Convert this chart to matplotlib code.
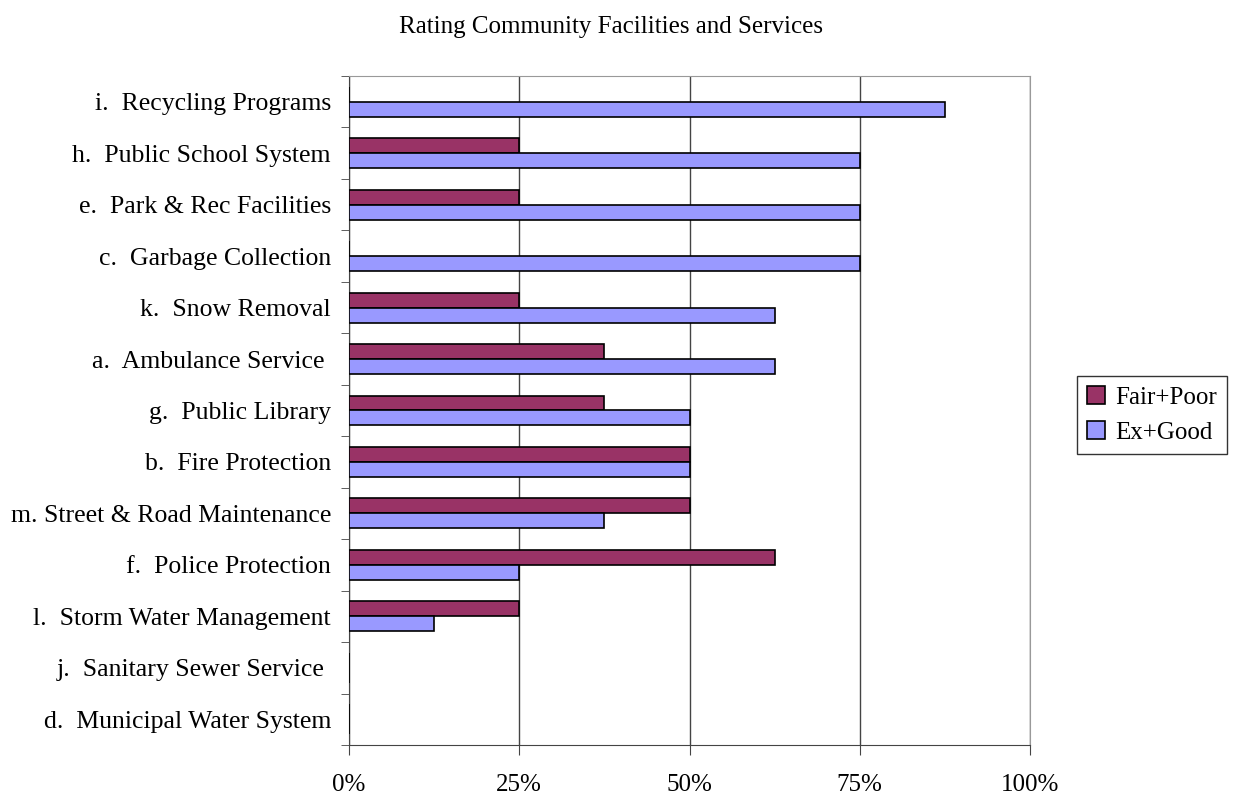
import numpy as np
import matplotlib.pyplot as plt
from matplotlib.ticker import FixedLocator, NullFormatter

# datos, de arriba hacia abajo como en la figura
categorias = [
    "i.  Recycling Programs",
    "h.  Public School System",
    "e.  Park & Rec Facilities",
    "c.  Garbage Collection",
    "k.  Snow Removal",
    "a.  Ambulance Service ",
    "g.  Public Library",
    "b.  Fire Protection",
    "m. Street & Road Maintenance",
    "f.  Police Protection",
    "l.  Storm Water Management",
    "j.  Sanitary Sewer Service ",
    "d.  Municipal Water System",
]
ex_good = [87.5, 75, 75, 75, 62.5, 62.5, 50, 50, 37.5, 25, 12.5, 0, 0]
fair_poor = [0, 25, 25, 0, 25, 37.5, 37.5, 50, 50, 62.5, 25, 0, 0]
ticks_x = [0, 25, 50, 75, 100]
etiquetas_x = ["0%", "25%", "50%", "75%", "100%"]

plt.rcParams['font.family'] = ['Liberation Serif', 'DejaVu Serif']

fig = plt.figure(figsize=(12.35, 8), dpi=100)
ax = fig.add_axes([349 / 1235, 1 - 745 / 800, (1030 - 349) / 1235, (745 - 76) / 800])

n = len(categorias)
y = np.arange(n)[::-1].astype(float)
h = 0.29

ax.barh(y + h / 2, fair_poor, height=h, color="#993366", edgecolor="black", linewidth=1.2,
        label="Fair+Poor", zorder=3)
ax.barh(y - h / 2, ex_good, height=h, color="#9999FF", edgecolor="black", linewidth=1.2,
        label="Ex+Good", zorder=3)

ax.set_xlim(0, 100)
ax.set_ylim(-0.5, n - 0.5)
ax.set_xticks(ticks_x)
ax.set_xticklabels(etiquetas_x, fontsize=18)
ax.tick_params(axis='x', length=7, pad=14, color="#444444")
ax.xaxis.grid(True, color="#444444", linewidth=1, zorder=0)

# etiquetas en el centro, ticks en los bordes de categoria
ax.set_yticks(y)
ax.set_yticklabels(categorias, fontsize=18.5)
ax.tick_params(axis='y', which='major', length=0, pad=13)
ax.yaxis.set_minor_locator(FixedLocator(np.arange(-0.5, n, 1.0)))
ax.yaxis.set_minor_formatter(NullFormatter())
ax.tick_params(axis='y', which='minor', length=6, color="#444444")

for lado in ['top', 'right']:
    ax.spines[lado].set_color("#999999")
for lado in ['left', 'bottom']:
    ax.spines[lado].set_color("#444444")

fig.text(611 / 1235, 1 - 27 / 800, "Rating Community Facilities and Services", ha="center", va="center", fontsize=18)

leg = fig.legend(loc="center", bbox_to_anchor=(1152 / 1235, 1 - 415 / 800), fontsize=18,
                 frameon=True, fancybox=False, edgecolor="black", handlelength=0.7, handleheight=0.7,
                 handletextpad=0.4, borderpad=0.4, labelspacing=0.5, borderaxespad=0)
leg.get_frame().set_linewidth(1)

fig.savefig("out.png", dpi=100)
